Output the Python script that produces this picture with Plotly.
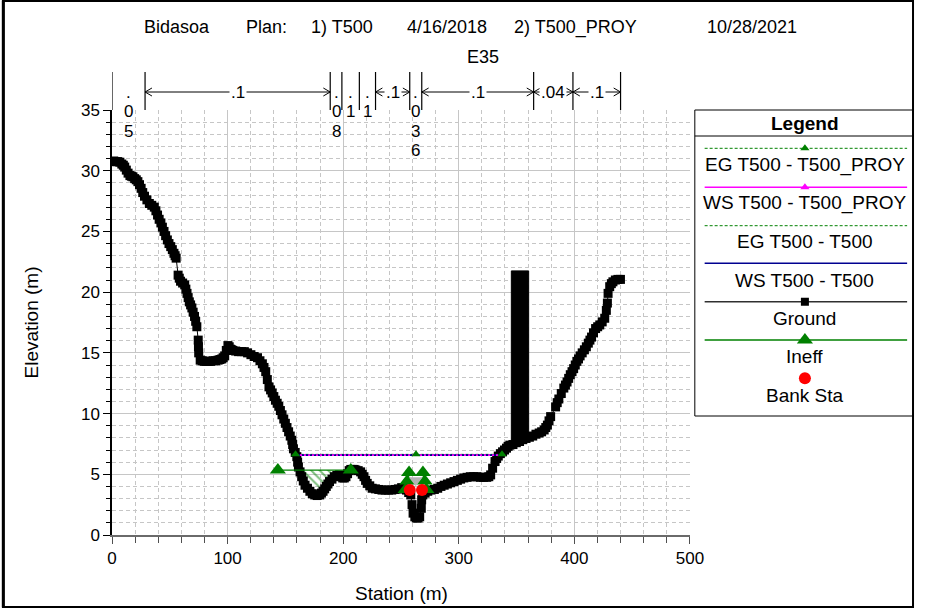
import numpy as np
import plotly.graph_objects as go

FONT = "Liberation Sans, Arial, sans-serif"
GREEN = "#008000"
MAGENTA = "#ff00ff"
BLUE = "#000090"
RED = "#ff0000"
GRID = "#c6c6c6"

# ---------------- cross section E35: ground points ----------------
ground_sta = [
    0.0, 1.5, 3.4, 5.0, 6.8, 8.5, 9.8, 11.0, 12.4, 13.9,
    15.5, 16.8, 18.1, 19.6, 21.0, 22.4, 23.8, 25.2, 26.6, 28.1,
    30.2, 32.3, 34.4, 36.6, 38.0, 39.4, 40.8, 42.3, 43.6, 45.0,
    46.4, 47.9, 49.3, 50.8, 52.2, 53.6, 54.6, 55.5, 57.2, 58.2,
    59.3, 61.1, 62.9, 63.9, 64.9, 65.9, 66.9, 68.0, 69.1, 70.2,
    71.4, 72.4, 73.4, 74.6, 74.8, 75.0, 76.3, 78.0, 79.8, 81.5,
    83.3, 85.4, 87.5, 89.6, 91.8, 93.4, 95.0, 96.2, 97.5, 98.9,
    100.3, 101.4, 102.5, 103.5, 104.6, 107.0, 109.5, 112.0, 114.5, 117.3,
    120.2, 123.0, 125.9, 128.0, 130.1, 131.5, 133.0, 134.4, 135.8, 137.2,
    138.6, 140.0, 141.4, 142.9, 144.3, 145.7, 147.1, 148.6, 150.0, 151.4,
    152.8, 154.2, 155.6, 156.3, 157.0, 158.5, 159.9, 160.6, 161.3, 162.7,
    164.1, 165.5, 167.0, 169.1, 171.2, 173.3, 175.4, 177.5, 179.7, 181.2,
    182.6, 184.0, 185.4, 186.8, 188.2, 190.3, 192.4, 194.5, 196.7, 198.2,
    199.6, 201.0, 202.4, 203.8, 205.2, 206.6, 208.0, 209.5, 210.9, 213.0,
    215.1, 216.5, 218.0, 219.4, 220.8, 223.0, 225.1, 227.9, 230.8, 233.6,
    236.4, 239.2, 242.0, 244.9, 247.8, 250.6, 252.7, 254.8, 256.7, 258.5,
    259.6, 260.5, 262.0, 263.3, 264.8, 266.2, 267.6, 267.9, 268.9, 270.9,
    273.2, 276.0, 278.9, 281.8, 284.6, 287.4, 290.2, 293.0, 295.9, 298.8,
    301.6, 304.4, 307.2, 310.0, 312.9, 315.8, 318.6, 321.4, 324.2, 326.0,
    327.6, 329.3, 331.4, 332.8, 334.2, 336.0, 337.9, 339.6, 341.3, 342.7,
    344.2, 346.9, 349.8, 352.6, 355.4, 358.2, 361.1, 364.0, 366.8, 369.6,
    371.7, 373.9, 375.3, 376.7, 378.1, 379.5, 383.8, 385.2, 386.6, 388.7,
    390.9, 392.3, 393.7, 395.1, 396.5, 398.0, 399.4, 400.8, 402.2, 403.6,
    405.0, 406.8, 408.7, 410.4, 412.1, 413.5, 414.9, 416.6, 418.4, 420.2,
    422.0, 424.1, 426.3, 427.7, 428.6, 429.2, 430.6, 432.0, 433.4, 435.5,
    437.7, 439.9,
]
ground_elev = [
    30.75, 30.8, 30.75, 30.75, 30.7, 30.55, 30.45, 30.3, 30.05, 29.8,
    29.6, 29.55, 29.5, 29.35, 29.25, 29.1, 28.85, 28.55, 28.2, 27.9,
    27.6, 27.3, 27.15, 27.0, 26.7, 26.35, 26.0, 25.7, 25.35, 25.0,
    24.65, 24.3, 24.0, 23.75, 23.5, 23.2, 23.0, 22.8, 21.4, 21.15,
    20.9, 20.75, 20.6, 20.25, 19.9, 19.55, 19.2, 18.95, 18.7, 18.35,
    18.0, 17.6, 17.15, 16.05, 15.5, 15.0, 14.4, 14.35, 14.3, 14.3,
    14.3, 14.3, 14.35, 14.35, 14.4, 14.45, 14.5, 14.6, 14.75, 15.2,
    15.6, 15.5, 15.3, 15.25, 15.2, 15.15, 15.1, 15.1, 15.1, 15.0,
    14.85, 14.7, 14.6, 14.35, 14.1, 13.8, 13.45, 12.8, 12.2, 11.95,
    11.7, 11.4, 11.1, 10.85, 10.6, 10.25, 9.9, 9.55, 9.2, 8.85,
    8.5, 8.15, 7.8, 7.45, 7.1, 6.8, 6.45, 6.0, 5.6, 5.2,
    4.8, 4.45, 4.1, 3.85, 3.6, 3.4, 3.3, 3.25, 3.3, 3.45,
    3.6, 3.8, 4.0, 4.2, 4.4, 4.6, 4.8, 4.9, 4.95, 4.85,
    4.7, 4.7, 4.8, 5.05, 5.3, 5.4, 5.4, 5.4, 5.35, 5.3,
    5.2, 5.0, 4.8, 4.5, 4.25, 4.05, 3.85, 3.8, 3.75, 3.7,
    3.7, 3.7, 3.7, 3.75, 3.8, 3.9, 3.8, 3.7, 3.5, 3.3,
    2.5, 1.8, 1.5, 1.4, 1.4, 1.5, 2.2, 2.9, 3.3, 3.45,
    3.6, 3.7, 3.75, 3.85, 4.0, 4.1, 4.2, 4.3, 4.4, 4.5,
    4.6, 4.7, 4.75, 4.8, 4.8, 4.8, 4.75, 4.75, 4.75, 4.8,
    4.95, 5.5, 6.05, 6.3, 6.5, 6.7, 6.85, 7.0, 7.15, 7.3,
    7.4, 7.45, 7.6, 7.7, 7.85, 7.95, 8.05, 8.15, 8.3, 8.4,
    8.5, 8.65, 8.85, 9.05, 9.4, 9.75, 10.55, 10.9, 11.2, 11.65,
    12.1, 12.35, 12.6, 12.9, 13.2, 13.45, 13.7, 14.0, 14.3, 14.5,
    14.75, 15.0, 15.25, 15.5, 15.8, 16.05, 16.3, 16.65, 17.0, 17.15,
    17.3, 17.55, 17.85, 18.5, 19.1, 19.9, 20.45, 20.7, 20.85, 21.0,
    21.05, 21.05,
]

# blocked obstruction
block_sta = [345.5, 360.5]
block_top = 21.75

# Manning's n breaks and values
n_breaks = [0.0, 28.6, 188.8, 198.9, 214.0, 228.0, 257.6, 268.0, 364.8, 398.8, 440.0]
n_values = [".05", ".1", ".08", ".1", ".1", ".1", ".036", ".1", ".04", ".1"]

# water surface and energy grade, both plans
ws_t500_sta = [159.2, 336.2]
ws_t500_elev = 6.58
ws_proy_sta = [159.2, 336.2]
ws_proy_elev = 6.58
eg_t500_sta = [159.0, 336.6]
eg_t500_elev = 6.61
eg_proy_sta = [158.8, 263.0, 337.4]
eg_proy_elev = 6.64

# ineffective flow areas
ineff_sta = [143.5, 206.6]
ineff_elev = 5.35
ineff_ch_sta = [257.0, 255.5, 254.0, 269.0, 270.5, 272.0]
ineff_ch_elev = [5.15, 4.45, 3.75, 5.15, 4.45, 3.75]

# channel water level symbol
chan_mark_sta = [262.8]
chan_mark_elev = [4.5]

# bank stations
bank_sta = [257.6, 268.2]
bank_elev = [3.7, 3.7]

# ---------------- page geometry (pixels) ----------------
W, H = 928, 608
L, T, BOT = 112, 110, 535
AREA_W = W - L
AREA_H = BOT - T
X_MAX = 500.0
PLOT_W = 588


def px(X):
    return (X - L) / AREA_W


def py(Y):
    return (BOT - Y) / AREA_H


def label(x, y, text, xref="paper", yref="paper", size=16, **kw):
    return dict(x=x, y=y, xref=xref, yref=yref, text=text, showarrow=False,
                xanchor="center", yanchor="middle",
                font=dict(size=size, family=FONT, color="black"), **kw)


gs = np.array(ground_sta)
ge = np.array(ground_elev)

fig = go.Figure()

# hatched ineffective area below the ineffective elevation
m = (gs > ineff_sta[0]) & (gs < ineff_sta[1])
hx = [ineff_sta[0]] + list(gs[m]) + [ineff_sta[1], ineff_sta[0]]
hy = [ineff_elev] + list(np.minimum(ge[m], ineff_elev)) + [ineff_elev, ineff_elev]
fig.add_trace(go.Scatter(x=hx, y=hy, mode="lines", fill="toself", line=dict(width=0, color=GREEN),
                         fillcolor="rgba(255,255,255,0)",
                         fillpattern=dict(shape="\\", fgcolor=GREEN, bgcolor="rgba(255,255,255,0)",
                                          size=6, solidity=0.35),
                         hoverinfo="skip", showlegend=False))

# blocked obstruction, filled from the ground up to its top
mb = (gs > block_sta[0]) & (gs < block_sta[1])
g0 = float(np.interp(block_sta[0], gs, ge))
g1 = float(np.interp(block_sta[1], gs, ge))
bx = [block_sta[0]] + list(gs[mb]) + [block_sta[1], block_sta[1], block_sta[0], block_sta[0]]
by = [g0] + list(ge[mb]) + [g1, block_top, block_top, g0]
fig.add_trace(go.Scatter(x=bx, y=by, mode="lines", fill="toself", fillcolor="black",
                         line=dict(color="black", width=1), hoverinfo="skip", showlegend=False))

# ground
fig.add_trace(go.Scatter(x=ground_sta, y=ground_elev, mode="lines+markers",
                         line=dict(color="black", width=1),
                         marker=dict(symbol="square", size=9, color="black"),
                         name="Ground", showlegend=False))

# energy grade lines (under the water surfaces)
fig.add_trace(go.Scatter(x=eg_t500_sta, y=[eg_t500_elev] * 2, mode="lines",
                         line=dict(color=GREEN, width=1, dash="3px,2px"), showlegend=False))
fig.add_trace(go.Scatter(x=[eg_proy_sta[0], eg_proy_sta[-1]], y=[eg_proy_elev] * 2, mode="lines",
                         line=dict(color=GREEN, width=1, dash="3px,2px"), showlegend=False))

# water surfaces
fig.add_trace(go.Scatter(x=ws_t500_sta, y=[ws_t500_elev] * 2, mode="lines",
                         line=dict(color=BLUE, width=1.6), showlegend=False))
fig.add_trace(go.Scatter(x=ws_proy_sta, y=[ws_proy_elev] * 2, mode="lines",
                         line=dict(color=MAGENTA, width=1.8, dash="2px,2px"), showlegend=False))

# energy grade markers
fig.add_trace(go.Scatter(x=eg_proy_sta, y=[eg_proy_elev] * len(eg_proy_sta), mode="markers",
                         marker=dict(symbol="triangle-up", size=8, color=GREEN), showlegend=False))

# ineffective flow limits
fig.add_trace(go.Scatter(x=ineff_sta, y=[ineff_elev] * 2, mode="lines+markers",
                         line=dict(color=GREEN, width=1.3),
                         marker=dict(symbol="triangle-up", size=14, color=GREEN), showlegend=False))
fig.add_trace(go.Scatter(x=ineff_ch_sta, y=ineff_ch_elev, mode="markers",
                         marker=dict(symbol="triangle-up", size=14, color=GREEN), showlegend=False))

fig.add_trace(go.Scatter(x=chan_mark_sta, y=chan_mark_elev, mode="markers",
                         marker=dict(symbol="triangle-down", size=12, color="#b4b4b4"),
                         showlegend=False))

# bank stations
fig.add_trace(go.Scatter(x=bank_sta, y=bank_elev, mode="markers",
                         marker=dict(symbol="circle", size=12, color=RED), showlegend=False))

shapes = []
annotations = []

# ---------------- Manning's n strip above the plot ----------------
Y_TOP, Y_ARROW = 72, 92
for s in n_breaks:
    shapes.append(dict(type="line", xref="x", yref="paper", x0=s, x1=s, y0=1.0, y1=py(Y_TOP),
                       line=dict(color="black", width=1.2)))
px_per_unit = PLOT_W / X_MAX
ch_dx = 7 / px_per_unit
ch_dy = 4 / AREA_H
ya = py(Y_ARROW)
for a, b, lab in zip(n_breaks[:-1], n_breaks[1:], n_values):
    seg_px = (b - a) * px_per_unit
    mid = 0.5 * (a + b)
    if seg_px >= 9 * len(lab) + 10:
        shapes.append(dict(type="line", xref="x", yref="paper", x0=a, x1=b, y0=ya, y1=ya,
                           line=dict(color="black", width=1)))
        shapes.append(dict(type="path", xref="x", yref="paper",
                           path=f"M {a + ch_dx} {ya + ch_dy} L {a} {ya} L {a + ch_dx} {ya - ch_dy}",
                           line=dict(color="black", width=1)))
        shapes.append(dict(type="path", xref="x", yref="paper",
                           path=f"M {b - ch_dx} {ya + ch_dy} L {b} {ya} L {b - ch_dx} {ya - ch_dy}",
                           line=dict(color="black", width=1)))
        annotations.append(label(mid, ya, lab, xref="x", size=17, bgcolor="white", borderpad=1))
    else:
        for i, ch in enumerate(lab):
            annotations.append(label(mid, py(Y_ARROW + 19.5 * i), ch, xref="x", size=17))

# ---------------- titles ----------------
title_parts = [("Bidasoa", 178), ("Plan:", 269), ("1) T500", 346), ("4/16/2018", 453),
               ("2) T500_PROY", 584), ("10/28/2021", 763)]
for txt, X in title_parts:
    annotations.append(label(px(X), py(27), txt, size=18))
annotations.append(label(px(489), py(57), "E35", size=18))
annotations.append(label(px(407), py(593), "Station (m)", size=19))
annotations.append(label(px(30), py(322), "Elevation (m)", size=19, textangle=-90))

# ---------------- legend box ----------------
LX0, LX1, LY0, LY1 = 705, 927, 110, 416
shapes.append(dict(type="rect", xref="paper", yref="paper", x0=px(LX0), x1=px(LX1), y0=py(LY1), y1=py(LY0),
                   line=dict(color="black", width=1)))
shapes.append(dict(type="line", xref="paper", yref="paper", x0=px(LX0), x1=px(LX1), y0=py(136), y1=py(136),
                   line=dict(color="black", width=1)))
annotations.append(label(817, 123, "<b>Legend</b>", xref="x2", yref="y2", size=19))

legend_rows = [
    ("EG T500 - T500_PROY", 148.3, dict(color=GREEN, width=1, dash="3px,2px"),
     dict(symbol="triangle-up", size=8, color=GREEN), 165),
    ("WS T500 - T500_PROY", 187.3, dict(color=MAGENTA, width=1.5),
     dict(symbol="triangle-up", size=8, color=MAGENTA), 202.7),
    ("EG T500 - T500", 225.7, dict(color=GREEN, width=1, dash="3px,2px"), None, 241.7),
    ("WS T500 - T500", 263.3, dict(color=BLUE, width=1.5), None, 280),
    ("Ground", 301.7, dict(color="#303030", width=1.5), dict(symbol="square", size=8, color="black"), 318.3),
    ("Ineff", 340.0, dict(color=GREEN, width=1.5), dict(symbol="triangle-up", size=14, color=GREEN), 356.7),
    ("Bank Sta", 378.3, None, dict(symbol="circle", size=12, color=RED), 395),
]
for text, yl, ln, mk, yt in legend_rows:
    if ln is not None:
        fig.add_trace(go.Scatter(x=[715, 921], y=[yl, yl], mode="lines", line=ln, xaxis="x2", yaxis="y2",
                                 hoverinfo="skip", showlegend=False))
    if mk is not None:
        fig.add_trace(go.Scatter(x=[817], y=[yl], mode="markers", marker=mk, xaxis="x2", yaxis="y2",
                                 hoverinfo="skip", showlegend=False))
    annotations.append(label(817, yt, text, xref="x2", yref="y2", size=19))

# ---------------- outer frame ----------------
shapes.append(dict(type="rect", xref="paper", yref="paper", x0=px(1), x1=px(927), y0=py(607), y1=py(1),
                   line=dict(color="black", width=2)))
shapes.append(dict(type="line", xref="paper", yref="paper", x0=px(1.5), x1=px(1.5), y0=py(607), y1=py(1),
                   line=dict(color="black", width=3)))

fig.update_layout(
    width=W, height=H,
    margin=dict(l=L, r=0, t=T, b=H - BOT, pad=0),
    paper_bgcolor="white", plot_bgcolor="white",
    font=dict(family=FONT, size=16, color="black"),
    showlegend=False,
    shapes=shapes, annotations=annotations,
    xaxis=dict(domain=[0, PLOT_W / AREA_W], range=[0, X_MAX], dtick=100, tick0=0,
               ticks="outside", ticklen=7, tickcolor="#505050", tickwidth=1,
               showline=True, linecolor="#6a6a6a", linewidth=2,
               showgrid=True, gridcolor=GRID, gridwidth=1, zeroline=False,
               tickfont=dict(size=17, family=FONT, color="black"),
               minor=dict(dtick=20, tick0=0, ticks="outside", ticklen=6, tickcolor="#505050",
                          showgrid=True, gridcolor=GRID, griddash="4px,3px")),
    yaxis=dict(range=[0, 35], dtick=5, tick0=0,
               ticks="outside", ticklen=7, tickcolor="black", tickwidth=1,
               showline=True, linecolor="black", linewidth=1.5,
               showgrid=True, gridcolor=GRID, gridwidth=1, zeroline=False,
               tickfont=dict(size=17, family=FONT, color="black"),
               minor=dict(dtick=1, tick0=0, ticks="outside", ticklen=4, tickcolor="black",
                          showgrid=True, gridcolor=GRID, griddash="4px,3px")),
    xaxis2=dict(domain=[px(LX0), px(LX1)], range=[LX0, LX1], visible=False, anchor="y2"),
    yaxis2=dict(domain=[py(LY1), 1.0], range=[LY1, LY0], visible=False, anchor="x2"),
)

fig.write_html("out.html")
